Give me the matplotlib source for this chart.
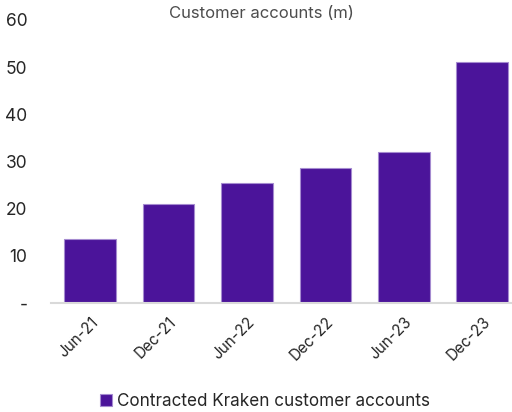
import numpy as np
import matplotlib.pyplot as plt

periods = ["Jun-21", "Dec-21", "Jun-22", "Dec-22", "Jun-23", "Dec-23"]
accounts = [13.5, 21.0, 25.5, 28.6, 32.1, 51.0]
y_ticks = [0, 10, 20, 30, 40, 50, 60]
y_labels = ["-", "10", "20", "30", "40", "50", "60"]

plt.rcParams["font.family"] = ["Inter", "DejaVu Sans"]

fig = plt.figure(figsize=(5.12, 4.12), dpi=100)
ax = fig.add_axes([51 / 512, 1 - 303 / 412, 461 / 512, 283 / 412])

x = np.arange(len(periods))
ax.bar(x, accounts, width=0.66, color="#4b149a", edgecolor="#a58bd0",
       linewidth=0.8, label="Contracted Kraken customer accounts", zorder=2)

ax.set_ylim(0, 60)
ax.set_xlim(-0.5, 5.38)
ax.set_yticks(y_ticks)
ax.set_yticklabels(y_labels, fontsize=12.5, color="#262626")
ax.set_xticks(x)
ax.set_xticklabels(periods, rotation=45, ha="right", rotation_mode="anchor",
                   fontsize=11, color="#262626")
ax.tick_params(axis="y", length=0, pad=17)
ax.tick_params(axis="x", length=0, pad=8)

for side in ["top", "right", "left"]:
    ax.spines[side].set_visible(False)
ax.spines["bottom"].set_color("#d9d9d9")
ax.spines["bottom"].set_linewidth(1.5)

fig.text(261 / 512, 1 - 14 / 412, "Customer accounts (m)", ha="center",
         va="center", fontsize=12, color="#4d4d4d")

fig.legend(loc="center", bbox_to_anchor=(265 / 512, 1 - 401 / 412),
           frameon=False, fontsize=12.3, handlelength=0.7, handleheight=0.7,
           handletextpad=0.3, labelcolor="#262626")

fig.savefig("out.png", dpi=100)
